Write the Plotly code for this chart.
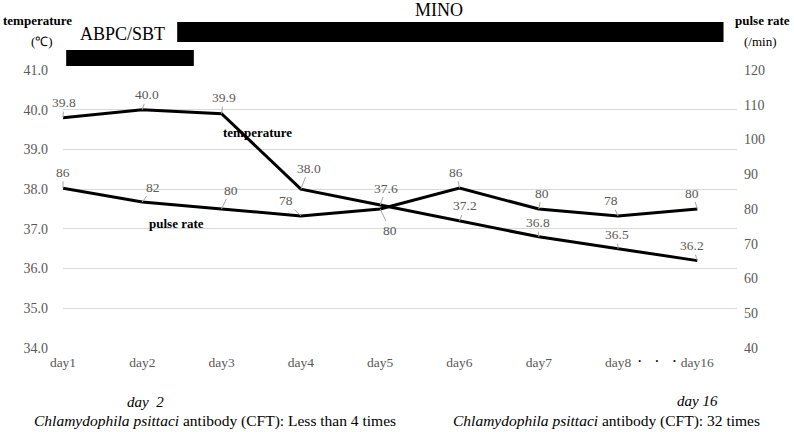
import plotly.graph_objects as go

days = ["day1", "day2", "day3", "day4", "day5", "day6", "day7", "day8", "day16"]
temperature = [39.8, 40.0, 39.9, 38.0, 37.6, 37.2, 36.8, 36.5, 36.2]
pulse_rate = [86, 82, 80, 78, 80, 86, 80, 78, 80]
temp_ticks = [34, 35, 36, 37, 38, 39, 40, 41]
pulse_ticks = [40, 50, 60, 70, 80, 90, 100, 110, 120]

# label offsets (pixels) - styling only
temp_off = [(1, -15), (5, -15), (2, -16), (8, -21), (6, -17), (6, -15), (-1, -14), (-1, -14), (-5, -15)]
pulse_off = [(0, -16), (11, -15), (9, -19), (-15, -15), (10, 21), (-3, -16), (3, -16), (-7, -15), (-5, -16)]

xi = list(range(len(days)))
SERIF = "Liberation Serif, Times New Roman, serif"
GRAY = "#595959"

fig = go.Figure()
fig.add_trace(go.Scatter(x=xi, y=temperature, mode="lines", line=dict(color="black", width=3),
                         name="temperature", yaxis="y", showlegend=False, hoverinfo="skip"))
fig.add_trace(go.Scatter(x=xi, y=pulse_rate, mode="lines", line=dict(color="black", width=3),
                         name="pulse rate", yaxis="y2", showlegend=False, hoverinfo="skip"))

ann = []
for i, v in enumerate(temperature):
    ann.append(dict(x=i, y=v, xref="x", yref="y", text=f"{v:.1f}", showarrow=True,
                    ax=temp_off[i][0], ay=temp_off[i][1], arrowhead=0, arrowwidth=1,
                    arrowcolor="#A6A6A6", standoff=0,
                    font=dict(family=SERIF, size=13.5, color=GRAY)))
for i, v in enumerate(pulse_rate):
    ann.append(dict(x=i, y=v, xref="x", yref="y2", text=str(v), showarrow=True,
                    ax=pulse_off[i][0], ay=pulse_off[i][1], arrowhead=0, arrowwidth=1,
                    arrowcolor="#A6A6A6", standoff=0,
                    font=dict(family=SERIF, size=13.5, color=GRAY)))

extra = [
    ("<b>temperature</b>", 37, 21, 13),
    ("(℃)", 42, 41, 13),
    ("<b>pulse rate</b>", 762, 21, 13),
    ("(/min)", 760, 41, 13),
    ("ABPC/SBT", 122, 34, 18),
    ("MINO", 439, 10, 18),
    ("<b>temperature</b>", 257, 132, 13),
    ("<b>pulse rate</b>", 176, 223, 13),
    ("<i>day  2</i>", 145, 402, 15),
    ("<i>Chlamydophila psittaci</i> antibody (CFT): Less than 4 times", 215, 421, 15.5),
    ("<i>day 16</i>", 697, 401, 15),
    ("<i>Chlamydophila psittaci</i> antibody (CFT): 32 times", 606, 421, 15.5),
    ("·   ·   ·", 657, 361, 16),
]
L, R, T, B = 63, 57, 70, 84
W = 794 - L - R
H = 432 - T - B
for text, px, py, size in extra:
    ann.append(dict(text=text, x=(px - L) / W, y=(432 - B - py) / H, xref="paper", yref="paper",
                    showarrow=False, xanchor="center", yanchor="middle",
                    font=dict(family=SERIF, size=size, color="black")))

shapes = [
    dict(type="rect", xref="x", yref="paper", x0=0.04, x1=1.65,
         y0=(432 - B - 66) / H, y1=(432 - B - 50) / H, fillcolor="black", line=dict(width=0)),
    dict(type="rect", xref="x", yref="paper", x0=1.44, x1=8.33,
         y0=(432 - B - 42) / H, y1=(432 - B - 22) / H, fillcolor="black", line=dict(width=0)),
]

fig.update_layout(
    width=794, height=432,
    margin=dict(l=L, r=R, t=T, b=B, autoexpand=False),
    paper_bgcolor="white", plot_bgcolor="white",
    xaxis=dict(range=[0, 8.5], tickvals=xi, ticktext=days, showgrid=False, zeroline=False,
               showline=False, ticks="", ticklabelstandoff=4,
               tickfont=dict(family=SERIF, size=13.5, color=GRAY)),
    yaxis=dict(range=[34, 41], tickvals=temp_ticks, tickformat=".1f", showgrid=True,
               gridcolor="#D9D9D9", gridwidth=1, zeroline=False, ticks="", ticklabelstandoff=14,
               tickfont=dict(family=SERIF, size=14, color=GRAY)),
    yaxis2=dict(range=[40, 120], tickvals=pulse_ticks, overlaying="y", side="right", showgrid=False,
                zeroline=False, ticks="", ticklabelstandoff=6,
                tickfont=dict(family=SERIF, size=14, color=GRAY)),
    annotations=ann, shapes=shapes, showlegend=False,
)

fig.write_html("out.html", config={"displayModeBar": False},
               post_script="document.body.style.margin='0';document.body.style.overflow='hidden';")
